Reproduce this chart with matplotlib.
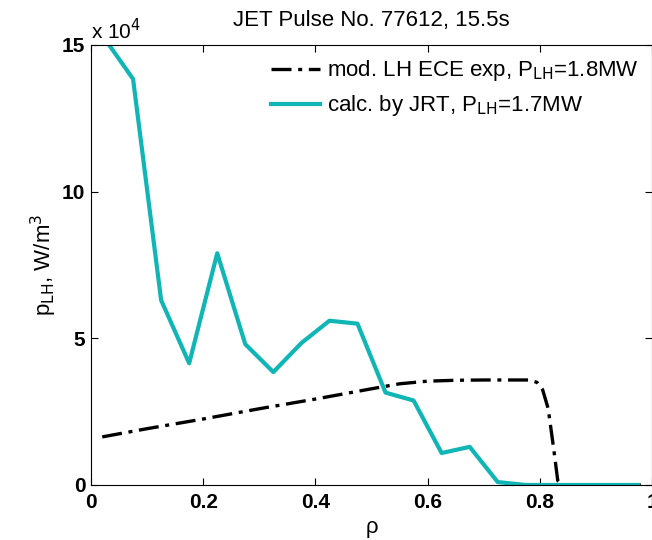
import matplotlib
matplotlib.use("Agg")
from matplotlib import pyplot as plt

# power density profiles, in units of 1e4 W/m^3
rho_jrt = [0.025, 0.075, 0.125, 0.175, 0.225, 0.275, 0.325, 0.375, 0.425, 0.475,
           0.525, 0.575, 0.625, 0.675, 0.725, 0.775, 0.825, 0.875, 0.925, 0.975]
p_jrt = [15.2, 13.84, 6.3, 4.15, 7.9, 4.8, 3.85, 4.84, 5.6, 5.5,
         3.15, 2.88, 1.09, 1.3, 0.1, 0.0, 0.0, 0.0, 0.0, 0.0]

rho_ece = [0.02, 0.1, 0.2, 0.3, 0.4, 0.5, 0.55, 0.6, 0.65, 0.7, 0.78,
           0.795, 0.805, 0.815, 0.825, 0.832, 0.84, 0.98]
p_ece = [1.64, 1.92, 2.25, 2.6, 2.93, 3.28, 3.45, 3.54, 3.57, 3.58, 3.58,
         3.5, 3.25, 2.6, 1.2, 0.15, 0.0, 0.0]

x_ticks = [0, 0.2, 0.4, 0.6, 0.8, 1]
x_tick_labels = ["0", "0.2", "0.4", "0.6", "0.8", "1"]
y_ticks = [0, 5, 10, 15]
y_tick_labels = ["0", "5", "10", "15"]

plt.rcParams['font.family'] = ['Liberation Sans', 'DejaVu Sans']

fig = plt.figure(figsize=(6.52, 5.40), dpi=100)
ax = fig.add_axes([91 / 652, 55 / 540, 561 / 652, 440 / 540])

ax.plot(rho_ece, p_ece, color='black', linestyle=(0, (6, 2, 1.2, 2)),
        linewidth=2.4, label='mod. LH ECE exp, P$_{\\rm LH}$=1.8MW')
ax.plot(rho_jrt, p_jrt, color='#10b5b5', linestyle='solid',
        linewidth=3.0, label='calc. by JRT, P$_{\\rm LH}$=1.7MW')

ax.set_xlim(0, 1)
ax.set_ylim(0, 15)
ax.set_xticks(x_ticks)
ax.set_xticklabels(x_tick_labels, fontsize=15, fontweight='bold')
ax.set_yticks(y_ticks)
ax.set_yticklabels(y_tick_labels, fontsize=15, fontweight='bold')
ax.tick_params(direction='in', top=True, right=True, length=5, width=0.8)
ax.tick_params(axis='x', pad=6)
ax.tick_params(axis='y', pad=4)

ax.text(0.0, 1.005, "x 10$^{4}$", transform=ax.transAxes, fontsize=15,
        ha='left', va='bottom')
ax.set_title("JET Pulse No. 77612, 15.5s", fontsize=16, pad=14)
ax.set_xlabel("\u03c1", fontsize=16, labelpad=3)
ax.set_ylabel("p$_{\\rm LH}$, W/m$^3$", fontsize=16, labelpad=2)

ax.legend(loc='upper right', fontsize=16, frameon=False, handlelength=2.2,
          handletextpad=0.3, borderaxespad=0.2, labelspacing=0.45)

fig.savefig("out.png", dpi=100)
